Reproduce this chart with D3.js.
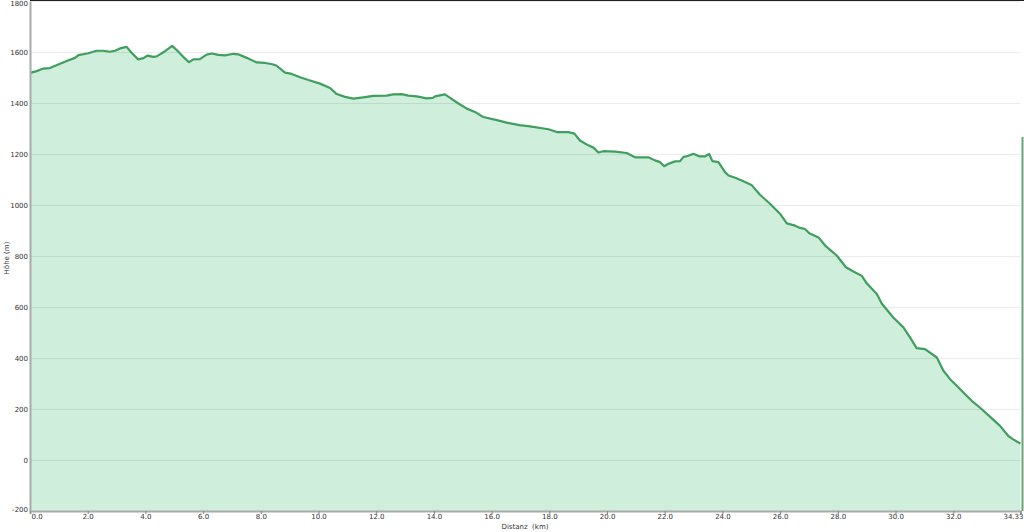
<!DOCTYPE html>
<html>
<head>
<meta charset="utf-8">
<script src="https://cdn.jsdelivr.net/npm/d3@7"></script>
<style>
  html, body { margin: 0; padding: 0; background: #fff; }
  svg { display: block; }
  .tick text { font-family: "DejaVu Sans", Verdana, sans-serif; font-size: 7px; fill: #333; }
</style>
</head>
<body>
<div id="chart"></div>
<script>
// distance (km) and elevation (m)
const distKm = [
  0, 0.23, 0.46, 0.69, 0.92, 1.27, 1.56, 1.68, 2.02, 2.31, 2.54, 2.77, 2.95, 3.12, 3.35,
  3.52, 3.75, 3.93, 4.08, 4.27, 4.39, 4.68, 4.93, 5.09, 5.31, 5.51, 5.66, 5.89, 6.12, 6.30,
  6.53, 6.76, 7.05, 7.22, 7.51, 7.86, 8.15, 8.40, 8.55, 8.84, 9.07, 9.36, 9.65, 10.05, 10.40,
  10.63, 10.92, 11.21, 11.55, 11.90, 12.36, 12.59, 12.88, 13.11, 13.40, 13.75, 13.96, 14.04, 14.38, 14.56,
  14.85, 15.14, 15.42, 15.71, 16.18, 16.52, 16.96, 17.27, 17.97, 18.26, 18.66, 18.87, 19.06, 19.35, 19.53,
  19.70, 19.87, 20.28, 20.68, 20.97, 21.43, 21.66, 21.84, 21.98, 22.13, 22.36, 22.53, 22.64, 22.82, 22.99,
  23.19, 23.40, 23.54, 23.65, 23.86, 24.09, 24.21, 24.44, 24.67, 25.02, 25.30, 25.65, 26.00, 26.23, 26.52,
  26.69, 26.86, 27.01, 27.33, 27.56, 27.96, 28.28, 28.54, 28.83, 29.00, 29.35, 29.52, 29.92, 30.27, 30.50,
  30.73, 31.02, 31.43, 31.66, 31.89, 32.12, 32.41, 32.64, 32.93, 33.28, 33.62, 33.91, 34.08, 34.33
];
const heightM = [
  1518, 1525, 1535, 1537, 1548, 1565, 1577, 1588, 1595, 1605, 1605, 1601, 1605, 1614, 1620,
  1597, 1571, 1576, 1586, 1581, 1583, 1603, 1624, 1607, 1581, 1560, 1571, 1572, 1590, 1594,
  1589, 1587, 1593, 1591, 1577, 1559, 1557, 1552, 1546, 1519, 1514, 1501, 1490, 1476, 1459,
  1435, 1424, 1417, 1422, 1428, 1429, 1434, 1435, 1429, 1426, 1418, 1420, 1426, 1434, 1420,
  1398, 1378, 1365, 1345, 1333, 1323, 1313, 1309, 1297, 1286, 1286, 1280, 1253, 1234, 1225,
  1206, 1211, 1209, 1204, 1187, 1187, 1175, 1168, 1152, 1162, 1171, 1172, 1188, 1193, 1201,
  1191, 1191, 1200, 1172, 1168, 1129, 1116, 1107, 1096, 1077, 1040, 1005, 965, 928, 919,
  910, 906, 889, 873, 841, 802, 756, 739, 722, 693, 651, 614, 559, 520, 481,
  439, 435, 402, 350, 317, 291, 258, 232, 205, 169, 134, 94, 81, 64
];
const xTicks = [0, 2, 4, 6, 8, 10, 12, 14, 16, 18, 20, 22, 24, 26, 28, 30, 32, 34.33];
const yTicks = [-200, 0, 200, 400, 600, 800, 1000, 1200, 1400, 1600, 1800];

const width = 1024, height = 532;
const margin = {top: 1, right: 3.5, bottom: 21, left: 30};

const data = distKm.map((d, i) => ({km: d, h: heightM[i]}));

const x = d3.scaleLinear().domain([0, 34.33]).range([margin.left, width - margin.right]);
const y = d3.scaleLinear().domain([-200, 1800]).range([height - margin.bottom, margin.top]);

const svg = d3.select("#chart").append("svg")
  .attr("width", width)
  .attr("height", height);

// filled profile
const area = d3.area()
  .x(d => x(d.km))
  .y0(y(-200))
  .y1(d => y(d.h));

svg.append("path")
  .datum(data)
  .attr("d", area)
  .attr("fill", "#cfeedc");

// grid lines over the fill
svg.append("g")
  .selectAll("line")
  .data(yTicks.filter(v => v > -200))
  .join("line")
  .attr("x1", x(0))
  .attr("x2", x(34.33))
  .attr("y1", d => Math.round(y(d)) + 0.5)
  .attr("y2", d => Math.round(y(d)) + 0.5)
  .attr("stroke", "rgba(0,0,0,0.08)")
  .attr("stroke-width", 1);

// profile line
const line = d3.line()
  .x(d => x(d.km))
  .y(d => y(d.h));

svg.append("path")
  .datum(data)
  .attr("d", line)
  .attr("fill", "none")
  .attr("stroke", "#3f9f5e")
  .attr("stroke-width", 2.2)
  .attr("stroke-linejoin", "round");

// top border
svg.append("line")
  .attr("x1", x(0)).attr("x2", width)
  .attr("y1", 0.5).attr("y2", 0.5)
  .attr("stroke", "#222");

// right edge marker line
svg.append("line")
  .attr("x1", width - 1.5).attr("x2", width - 1.5)
  .attr("y1", 137).attr("y2", y(-200))
  .attr("stroke", "#6f9f7c")
  .attr("stroke-width", 2);

// axes
const xAxis = d3.axisBottom(x)
  .tickValues(xTicks)
  .tickSize(3)
  .tickPadding(1)
  .tickFormat(d => d === 34.33 ? "34.33" : d3.format(".1f")(d));

const gx = svg.append("g")
  .attr("transform", `translate(0,${y(-200)})`)
  .call(xAxis);
gx.select(".domain").attr("stroke", "#aaa").attr("stroke-width", 2);
gx.selectAll(".tick line").attr("stroke", "#888");
gx.selectAll(".tick text").attr("dy", "0.55em");
gx.selectAll(".tick text").filter(d => d === 0).attr("text-anchor", "start").attr("dx", 1);
gx.selectAll(".tick text").filter(d => d === 34.33).attr("text-anchor", "end").attr("dx", 2.5);

const yAxis = d3.axisLeft(y)
  .tickValues(yTicks)
  .tickSize(0)
  .tickPadding(2)
  .tickFormat(d => String(d));

const gy = svg.append("g")
  .attr("transform", `translate(${x(0)},0)`)
  .call(yAxis);
gy.select(".domain").attr("stroke", "#aaa").attr("stroke-width", 2);
gy.selectAll(".tick text").filter(d => d === 1800).attr("dy", "0.7em");
gy.selectAll(".tick text").filter(d => d === -200).attr("dy", "0.1em");

// axis titles
svg.append("text")
  .attr("x", 525)
  .attr("y", 529)
  .attr("text-anchor", "middle")
  .attr("font-family", "DejaVu Sans, Verdana, sans-serif")
  .attr("font-size", 7)
  .attr("fill", "#333")
  .attr("xml:space", "preserve")
  .text("Distanz  (km)");

svg.append("text")
  .attr("transform", `translate(9,${(y(1800) + y(-200)) / 2 + 2}) rotate(-90)`)
  .attr("text-anchor", "middle")
  .attr("font-family", "DejaVu Sans, Verdana, sans-serif")
  .attr("font-size", 7)
  .attr("fill", "#333")
  .text("Höhe (m)");
</script>
</body>
</html>
